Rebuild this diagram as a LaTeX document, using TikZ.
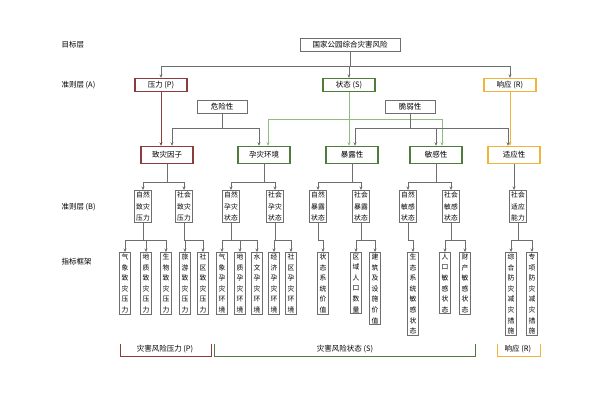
\documentclass[tikz,border=0pt]{standalone}
\usepackage{fontspec}
\setmainfont{Noto Sans CJK SC}
\usetikzlibrary{arrows.meta}
\definecolor{cred}{HTML}{8E3B3E}
\definecolor{cgreen}{HTML}{4F7B3C}
\definecolor{lgreen}{HTML}{8DBE80}
\definecolor{cyel}{HTML}{F0B43A}
\definecolor{cgray}{HTML}{6E6E6E}
\tikzset{
 ln/.style={draw=cgray,line width=0.8pt},
 arr/.style={ln,-{Stealth[length=3.5pt,width=3pt]}},
 carr/.style={line width=0.9pt,-{Stealth[length=3.5pt,width=3pt]}},
 box/.style={draw=cgray,line width=0.9pt,fill=white,font=\fontsize{7.5}{9}\selectfont,inner sep=1.5pt,minimum height=13pt},
 cbox/.style={box,line width=1.4pt,minimum width=52pt,minimum height=17pt},
 bbox/.style={draw=cgray,line width=1pt,fill=white,font=\fontsize{6.8}{11.5}\selectfont,align=center,inner sep=1.3pt,text width=14pt,anchor=north},
 vbox/.style={draw=cgray,line width=1pt,fill=white,font=\fontsize{6.8}{10.6}\selectfont,align=center,inner sep=1.2pt,text width=8pt,anchor=north},
 lab/.style={font=\fontsize{7.5}{9}\selectfont,anchor=west},
 brk/.style={line width=1pt}
}
\newcommand\busto[3]{%
 \draw[ln] (#1.south) -- (#1.south|-0,#2);
 \foreach \c in {#3} {\draw[ln] (#1.south|-0,#2) -- (\c.north|-0,#2); \draw[arr] (\c.north|-0,#2) -- (\c.north);}}
\begin{document}
\begin{tikzpicture}[x=1pt,y=-1pt]
\useasboundingbox (0,0) rectangle (600,400);
% left labels
\node[lab] (l1) at (58,45) {目标层};
\node[lab] (l2) at (58,85) {准则层 (A)};
\node[lab] (l3) at (58,207) {准则层 (B)};
\node[lab] (l4) at (58,262) {指标框架};
% top
\node[box,minimum width=100pt] (top) at (350,45) {国家公园综合灾害风险};
\node[box,draw=cred,line width=1.3pt,minimum width=52pt] (P) at (161,85) {压力 (P)};
\node[box,draw=cgreen,line width=1.3pt,minimum width=52pt] (S) at (349,85) {状态 (S)};
\node[box,draw=cyel,line width=1.3pt,minimum width=52pt] (R) at (510,85) {响应 (R)};
\node[box,minimum width=50pt] (H) at (222,107) {危险性};
\node[box,minimum width=50pt] (V) at (410,107) {脆弱性};
\node[cbox,draw=cred] (C1) at (167,155) {致灾因子};
\node[cbox,draw=cgreen] (C2) at (264,155) {孕灾环境};
\node[cbox,draw=cgreen] (C3) at (352,155) {暴露性};
\node[cbox,draw=cgreen] (C4) at (436,155) {敏感性};
\node[cbox,draw=cyel] (C5) at (514,155) {适应性};
% top bus
\draw[ln] (top.south) -- (top.south|-0,66);
\draw[ln] (P.north|-0,66) -- (R.north|-0,66);
\foreach \n in {P,S,R} \draw[arr] (\n.north|-0,66) -- (\n.north);
% coloured
\draw[carr,draw=cred] (P.south) -- (P.south|-C1.north);
\draw[carr,draw=cyel] (R.south) -- (R.south|-C5.north);
\draw[carr,draw=lgreen] (S.south) -- (S.south|-C3.north);
\draw[line width=0.9pt,draw=lgreen] ([xshift=4pt]C2.north|-0,119) -- ([xshift=6pt]C4.north|-0,119);
\draw[carr,draw=lgreen] ([xshift=4pt]C2.north|-0,119) -- ([xshift=4pt]C2.north);
\draw[carr,draw=lgreen] ([xshift=6pt]C4.north|-0,119) -- ([xshift=6pt]C4.north);
% hazard
\draw[ln] (H.south) -- (H.south|-0,128);
\draw[ln] ([xshift=5pt]C1.north|-0,128) -- ([xshift=-5pt]C2.north|-0,128);
\draw[arr] ([xshift=5pt]C1.north|-0,128) -- ([xshift=5pt]C1.north);
\draw[arr] ([xshift=-5pt]C2.north|-0,128) -- ([xshift=-5pt]C2.north);
% vulnerability
\draw[ln] (V.south) -- (V.south|-0,128);
\draw[ln] ([xshift=3pt]C3.north|-0,128) -- ([xshift=-6pt]C5.north|-0,128);
\draw[arr] ([xshift=3pt]C3.north|-0,128) -- ([xshift=3pt]C3.north);
\draw[arr] (C4.north|-0,128) -- (C4.north);
\draw[arr] ([xshift=-6pt]C5.north|-0,128) -- ([xshift=-6pt]C5.north);
% level B
\node[bbox] (B1) at (143,190) {自然\\致灾\\压力};
\node[bbox] (B2) at (184,190) {社会\\致灾\\压力};
\node[bbox] (B3) at (231,190) {自然\\孕灾\\状态};
\node[bbox] (B4) at (275,190) {社会\\孕灾\\状态};
\node[bbox] (B5) at (318,190) {自然\\暴露\\状态};
\node[bbox] (B6) at (361,190) {社会\\暴露\\状态};
\node[bbox] (B7) at (408,190) {自然\\敏感\\状态};
\node[bbox] (B8) at (451,190) {社会\\敏感\\状态};
\node[bbox] (B9) at (518,190) {社会\\适应\\能力};
\busto{C1}{182}{B1,B2}
\busto{C2}{182}{B3,B4}
\busto{C3}{182}{B5,B6}
\busto{C4}{182}{B7,B8}
\draw[arr] (C5.south) -- (C5.south|-B9.north);
% indicators
\node[vbox] (I1) at (125,252) {气\\象\\致\\灾\\压\\力};
\node[vbox] (I2) at (146,252) {地\\质\\致\\灾\\压\\力};
\node[vbox] (I3) at (166,252) {生\\物\\致\\灾\\压\\力};
\node[vbox] (I4) at (185,252) {旅\\游\\致\\灾\\压\\力};
\node[vbox] (I5) at (203,252) {社\\区\\致\\灾\\压\\力};
\node[vbox] (I6) at (222,252) {气\\象\\孕\\灾\\环\\境};
\node[vbox] (I7) at (240,252) {地\\质\\孕\\灾\\环\\境};
\node[vbox] (I8) at (257,252) {水\\文\\孕\\灾\\环\\境};
\node[vbox] (I9) at (274,252) {经\\济\\孕\\灾\\环\\境};
\node[vbox] (I10) at (291,252) {社\\区\\孕\\灾\\环\\境};
\node[vbox] (I11) at (323,252) {状\\态\\系\\统\\价\\值};
\node[vbox] (I12) at (356,252) {区\\域\\人\\口\\数\\量};
\node[vbox] (I13) at (375,252) {建\\筑\\及\\设\\施\\价\\值};
\node[vbox] (I14) at (413,252) {生\\态\\系\\统\\敏\\感\\状\\态};
\node[vbox] (I15) at (445,252) {人\\口\\敏\\感\\状\\态};
\node[vbox] (I16) at (465,252) {财\\产\\敏\\感\\状\\态};
\node[vbox] (I17) at (511,252) {综\\合\\防\\灾\\减\\灾\\措\\施};
\node[vbox] (I18) at (532,252) {专\\项\\防\\灾\\减\\灾\\措\\施};
\busto{B1}{240}{I1,I2,I3}
\busto{B2}{240}{I4,I5}
\busto{B3}{240}{I6,I7,I8}
\busto{B4}{240}{I9,I10}
\busto{B5}{240}{I11}
\busto{B6}{240}{I12,I13}
\busto{B7}{240}{I14}
\busto{B8}{240}{I15,I16}
\busto{B9}{240}{I17,I18}
% brackets
\draw[brk,draw=cred] (120,344) -- (120,356) -- (211,356) -- (211,344);
\node[font=\fontsize{7.5}{9}\selectfont] (t1) at (165,349) {灾害风险压力 (P)};
\draw[brk,draw=cgreen] (214,344) -- (214,356) -- (475,356) -- (475,344);
\node[font=\fontsize{7.5}{9}\selectfont] (t2) at (345,349) {灾害风险状态 (S)};
\draw[brk,draw=cyel] (497,344) -- (497,356) -- (540,356) -- (540,344);
\node[font=\fontsize{7.5}{9}\selectfont] (t3) at (518,349) {响应 (R)};
\end{tikzpicture}
\end{document}
